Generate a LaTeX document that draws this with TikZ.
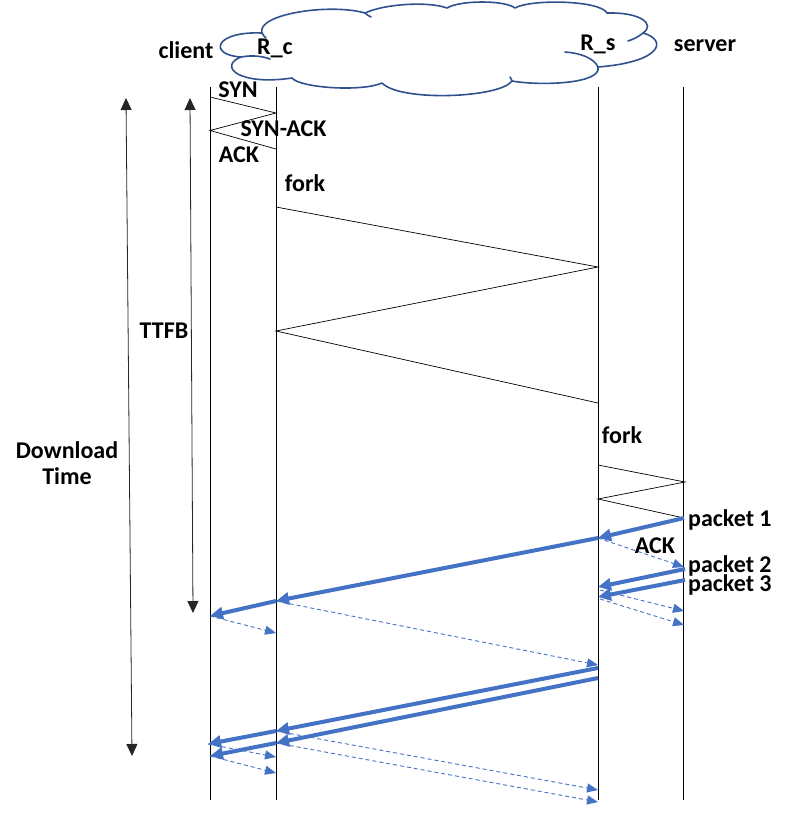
\documentclass[tikz,border=0pt]{standalone}
\usepackage{fontspec}
\setmainfont{Carlito}
\usetikzlibrary{arrows.meta}
\definecolor{pblue}{HTML}{4472C4}
\definecolor{cloudblue}{HTML}{2F528F}
\tikzset{
  lbl/.style={font=\fontsize{24}{26}\selectfont\bfseries, inner sep=0pt},
  life/.style={black, line width=0.9pt},
  msg/.style={black, line width=0.7pt},
  data/.style={pblue, line width=4pt, -{Triangle[length=13pt,width=12pt]}},
  ackd/.style={pblue, line width=0.9pt, dash pattern=on 4pt off 3pt, -{Triangle[length=11pt,width=9pt]}},
  span/.style={black!85, line width=0.8pt, {Triangle[length=12pt,width=11pt]}-{Triangle[length=12pt,width=11pt]}},
  cloudline/.style={cloudblue, line width=1.6pt, line join=round, line cap=round}
}
\begin{document}
\begin{tikzpicture}[x=1pt,y=-1pt]
\useasboundingbox (0,0) rectangle (791,815);
% cloud
\draw[cloudline, fill=white]
  (262,33) .. controls (256,14) and (330,3) .. (365,13)
  .. controls (384,4) and (428,1) .. (447,8)
  .. controls (460,0) and (505,0) .. (515,8)
  .. controls (530,-1) and (600,0) .. (607,13)
  .. controls (640,12) and (656,24) .. (643,33)
  .. controls (668,40) and (662,62) .. (598,67)
  .. controls (602,84) and (540,86) .. (512,81)
  .. controls (500,98) and (400,102) .. (382,83)
  .. controls (362,92) and (300,88) .. (292,78)
  .. controls (238,86) and (218,66) .. (241,57)
  .. controls (208,55) and (214,31) .. (262,33) -- cycle;
\draw[cloudline] (241,57) .. controls (252,55) and (262,56) .. (270,59);
\draw[cloudline] (643,33) .. controls (638,37) and (634,39) .. (628,41);
\draw[cloudline] (565,52) .. controls (580,53) and (594,58) .. (598,67);
\draw[cloudline] (512,81) .. controls (511,79) and (511,78) .. (510,77);
\draw[cloudline] (365,13) .. controls (367,15) and (369,16) .. (371,17);
\draw[cloudline] (262,33) .. controls (263,35) and (264,36) .. (266,38);
% labels on top
\node[lbl] (lclient) at (186,50) {client};
\node[lbl] (lrc) at (275,48) {R\_c};
\node[lbl] (lrs) at (598,44) {R\_s};
\node[lbl] (lserver) at (705,46) {server};
% lifelines
\coordinate (c0) at (210,87);  \coordinate (c9) at (210,800);
\coordinate (rc0) at (276,87); \coordinate (rc9) at (276,800);
\coordinate (rs0) at (598,87); \coordinate (rs9) at (598,800);
\coordinate (sv0) at (683,87); \coordinate (sv9) at (683,800);
\draw[life] (c0) -- (c9);
\draw[life] (rc0) -- (rc9);
\draw[life] (rs0) -- (rs9);
\draw[life] (sv0) -- (sv9);
% handshake
\coordinate (h1) at (210,97);
\coordinate (h2) at (276,113);
\coordinate (h3) at (210,130.5);
\coordinate (h4) at (276,149);
\draw[msg] (h1) -- (h2) -- (h3) -- (h4);
\node[lbl] (lsyn) at (238,89.5) {SYN};
\node[lbl] (lsynack) at (283.5,128.5) {SYN-ACK};
\node[lbl] (lack1) at (239,155) {ACK};
\node[lbl] (lfork1) at (305,183) {fork};
% fork exchange
\coordinate (f1) at (276,207);
\coordinate (f2) at (598,267);
\coordinate (f3) at (276,331);
\coordinate (f4) at (598,403);
\draw[msg] (f1) -- (f2) -- (f3) -- (f4);
\node[lbl] (lfork2) at (622,435) {fork};
% server exchange
\coordinate (s1) at (598,465);
\coordinate (s2) at (685,482);
\coordinate (s3) at (598,499);
\coordinate (s4) at (684,518);
\draw[msg] (s1) -- (s2) -- (s3) -- (s4);
% data packets
\coordinate (p1a) at (598,538);
\coordinate (p1b) at (276,601);
\coordinate (p1c) at (210,616);
\draw[data] (s4) -- (p1a);
\draw[data] (p1a) -- (p1b);
\draw[data] (p1b) -- (p1c);
\coordinate (p2s) at (685,569);
\coordinate (p2r) at (598,587);
\coordinate (p3s) at (685,580);
\coordinate (p3r) at (598,597);
\draw[data] (p2s) -- (p2r);
\draw[data] (p3s) -- (p3r);
\coordinate (q1) at (598,668);
\coordinate (q2) at (598,678);
\coordinate (q1r) at (276,731);
\coordinate (q2r) at (276,743);
\coordinate (q1c) at (208,744);
\coordinate (q2c) at (210,756);
\draw[data] (q1) -- (q1r);
\draw[data] (q2) -- (q2r);
\draw[data] (q1r) -- (q1c);
\draw[data] (q2r) -- (q2c);
% acks
\coordinate (a1) at (684,567);
\coordinate (a2s) at (600,590);
\coordinate (a2) at (684,611);
\coordinate (a3s) at (600,599);
\coordinate (a3) at (684,625);
\coordinate (a4) at (276,633);
\coordinate (a5) at (598,665);
\coordinate (b1) at (276,757);
\coordinate (b2) at (276,773);
\coordinate (b3) at (598,790);
\coordinate (b4) at (598,802);
\draw[ackd] (p1a) -- (a1);
\draw[ackd] (a2s) -- (a2);
\draw[ackd] (a3s) -- (a3);
\draw[ackd] (p1c) -- (a4);
\draw[ackd] (p1b) -- (a5);
\draw[ackd] (q1c) -- (b1);
\draw[ackd] (q2c) -- (b2);
\draw[ackd] (q1r) -- (b3);
\draw[ackd] (q2r) -- (b4);
\node[lbl, anchor=west] (lp1) at (688,520) {packet 1};
\node[lbl] (lack2) at (655,546) {ACK};
\node[lbl, anchor=west] (lp2) at (688,566) {packet 2};
\node[lbl, anchor=west] (lp3) at (688,585) {packet 3};
% time spans
\coordinate (dt1) at (126,98);
\coordinate (dt2) at (132,756);
\coordinate (tt1) at (190,98);
\coordinate (tt2) at (193,613);
\draw[span] (dt1) -- (dt2);
\draw[span] (tt1) -- (tt2);
\node[lbl] (lttfb) at (164,331) {TTFB};
\node[lbl, align=center] (ldl) at (67,463) {Download\\Time};
\end{tikzpicture}
\end{document}
